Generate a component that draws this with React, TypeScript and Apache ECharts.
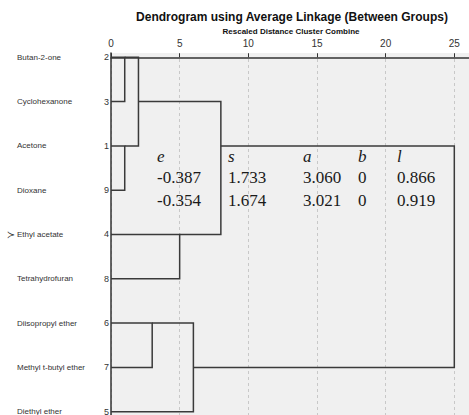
import React, { useEffect, useRef } from "react";
import * as echarts from "echarts";

// Leaves, top to bottom, with their case numbers
const leafNames = [
  "Butan-2-one",
  "Cyclohexanone",
  "Acetone",
  "Dioxane",
  "Ethyl acetate",
  "Tetrahydrofuran",
  "Diisopropyl ether",
  "Methyl t-butyl ether",
  "Diethyl ether",
];
const caseNumbers = [2, 3, 1, 9, 4, 8, 6, 7, 5];

// Agglomeration steps: ids 0..8 are leaves, id 9 + i is step i
const mergeUpper = [0, 2, 9, 4, 11, 6, 14, 13];
const mergeLower = [1, 3, 10, 5, 12, 7, 8, 15];
const mergeDistance = [1, 1, 2, 5, 8, 3, 6, 25];
const mergeRow = [0, 2, 1, 4, 2, 6, 7, 2];

// Distance axis ticks
const distanceTicks = [0, 5, 10, 15, 20, 25];

// Parameter table printed over the plot
const paramHeaders = ["e", "s", "a", "b", "l"];
const paramRow1 = ["-0.387", "1.733", "3.060", "0", "0.866"];
const paramRow2 = ["-0.354", "1.674", "3.021", "0", "0.919"];

const markedLeaf = 4;

function nodeRow(id: number): number {
  return id < leafNames.length ? id : mergeRow[id - leafNames.length];
}
function nodeStart(id: number): number {
  return id < leafNames.length ? 0 : mergeDistance[id - leafNames.length];
}

export default function App() {
  const ref = useRef<HTMLDivElement>(null);

  useEffect(() => {
    if (!ref.current) return;
    const chart = echarts.init(ref.current, null, {
      renderer: "svg",
      width: 469,
      height: 415,
    });

    const bracketData = mergeDistance.map((d, i) => [
      nodeStart(mergeUpper[i]),
      nodeRow(mergeUpper[i]),
      d,
      nodeRow(mergeLower[i]),
      nodeStart(mergeLower[i]),
    ]);

    const rowIdx = leafNames.map((_, i) => i);
    const yMin = -0.097;
    const yMax = 8.075;
    const xMax = 26.07;

    const sharedY = {
      type: "value" as const,
      inverse: true,
      min: yMin,
      max: yMax,
      gridIndex: 0,
      splitLine: { show: false },
      axisTick: { show: false },
    };

    const sans = '"Liberation Sans", Arial, sans-serif';
    const tableFont = '"Liberation Serif", "DejaVu Serif", serif';
    const colX = [157, 228, 303, 358, 397];

    chart.setOption({
      animation: false,
      backgroundColor: "#ffffff",
      grid: {
        left: 111,
        right: 0,
        top: 53,
        bottom: 0,
        show: true,
        backgroundColor: "#f0f0f0",
        borderWidth: 0,
        outerBoundsMode: "none",
      },
      xAxis: {
        type: "value",
        position: "top",
        min: 0,
        max: xMax,
        interval: 5,
        axisLine: { show: true, lineStyle: { color: "#333", width: 1.5 } },
        axisTick: { show: true, length: 4, lineStyle: { color: "#333" } },
        axisLabel: {
          fontSize: 10,
          color: "#333",
          margin: 5,
          fontFamily: sans,
          showMaxLabel: false,
          formatter: (v: number) =>
            distanceTicks.includes(Math.round(v * 1000) / 1000) ? String(v) : "",
        },
        splitLine: {
          show: true,
          lineStyle: { color: "#c8c8c8", type: [3, 3], width: 1 },
        },
      },
      yAxis: [
        {
          ...sharedY,
          axisLine: { show: true, lineStyle: { color: "#333", width: 1.5 } },
          axisLabel: {
            customValues: rowIdx,
            fontSize: 9,
            color: "#333",
            margin: 2,
            fontFamily: sans,
            formatter: (v: number) => String(caseNumbers[Math.round(v)] ?? ""),
          },
        },
        {
          ...sharedY,
          position: "left",
          axisLine: { show: false },
          axisLabel: {
            customValues: rowIdx,
            fontSize: 8,
            color: "#333",
            margin: 94,
            align: "left",
            fontFamily: sans,
            formatter: (v: number) => leafNames[Math.round(v)] ?? "",
          },
        },
      ],
      series: [
        {
          type: "custom",
          xAxisIndex: 0,
          yAxisIndex: 0,
          data: bracketData,
          encode: { x: [0, 2, 4], y: [1, 3] },
          renderItem: (_params: any, api: any) => {
            const x0 = api.value(0);
            const y0 = api.value(1);
            const d = api.value(2);
            const y1 = api.value(3);
            const x1 = api.value(4);
            const pts = [
              api.coord([x0, y0]),
              api.coord([d, y0]),
              api.coord([d, y1]),
              api.coord([x1, y1]),
            ];
            return {
              type: "polyline",
              shape: { points: pts },
              style: { stroke: "#3a3a3a", lineWidth: 1.5, fill: "none" },
            };
          },
        },
      ],
    });

    // Texts placed after layout, so the pointer can follow its leaf row
    const py = chart.convertToPixel({ yAxisIndex: 0 }, markedLeaf) as number;

    const graphics: any[] = [
      {
        type: "text",
        x: 292,
        y: 17,
        style: {
          text: "Dendrogram using Average Linkage (Between Groups)",
          font: `bold 12px ${sans}`,
          fill: "#111",
          align: "center",
          verticalAlign: "middle",
        },
      },
      {
        type: "text",
        x: 291,
        y: 31,
        style: {
          text: "Rescaled Distance Cluster Combine",
          font: `bold 8px ${sans}`,
          fill: "#111",
          align: "center",
          verticalAlign: "middle",
        },
      },
      {
        type: "text",
        x: 11,
        y: py,
        style: {
          text: "≻",
          font: '10px "DejaVu Sans", sans-serif',
          fill: "#333",
          align: "center",
          verticalAlign: "middle",
        },
      },
    ];
    paramHeaders.forEach((h, i) =>
      graphics.push({
        type: "text",
        x: colX[i],
        y: 156,
        style: {
          text: h,
          font: `italic 17px ${tableFont}`,
          fill: "#1a1a1a",
          verticalAlign: "middle",
        },
      })
    );
    [paramRow1, paramRow2].forEach((row, r) =>
      row.forEach((v, i) =>
        graphics.push({
          type: "text",
          x: colX[i],
          y: 177 + r * 23,
          style: {
            text: v,
            font: `17px ${tableFont}`,
            fill: "#1a1a1a",
            verticalAlign: "middle",
          },
        })
      )
    );
    chart.setOption({ graphic: graphics });

    return () => chart.dispose();
  }, []);

  return (
    <div
      ref={ref}
      style={{ position: "fixed", left: 0, top: 0, width: 469, height: 415 }}
    />
  );
}
